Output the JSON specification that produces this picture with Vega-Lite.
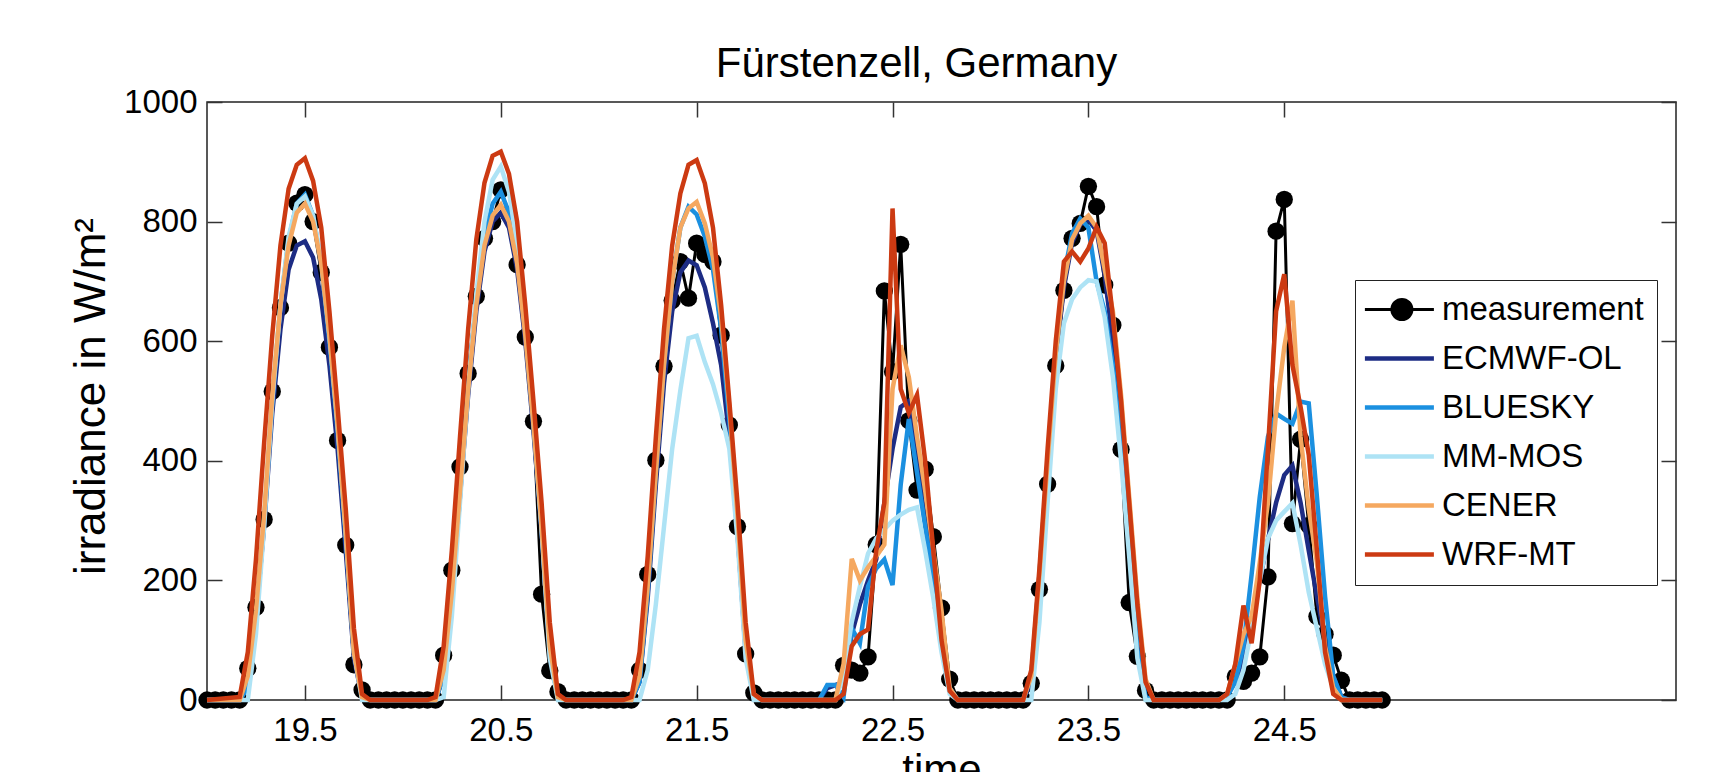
{
"$schema":"https://vega.github.io/schema/vega-lite/v6.json",
"width":1469,"height":598,
"autosize":{"type":"none"},
"padding":{"left":207,"top":102,"right":33,"bottom":72},
"background":"white",
"title":{"text":"Fürstenzell, Germany","fontSize":42,"fontWeight":"normal","font":"Liberation Sans","color":"black","offset":19,"dx":-25,"dy":61,"anchor":"middle","baseline":"bottom","frame":"group"},
"config":{"font":"Liberation Sans","view":{"stroke":"#222","strokeWidth":1.5}},
"data":{"values":[
{"t":19,"s":"measurement","v":0},{"t":19.0417,"s":"measurement","v":0},{"t":19.0833,"s":"measurement","v":0},{"t":19.125,"s":"measurement","v":0},{"t":19.1667,"s":"measurement","v":0},{"t":19.2083,"s":"measurement","v":53},{"t":19.25,"s":"measurement","v":155},{"t":19.2917,"s":"measurement","v":302},{"t":19.3333,"s":"measurement","v":516},{"t":19.375,"s":"measurement","v":656},{"t":19.4167,"s":"measurement","v":764},{"t":19.4583,"s":"measurement","v":831},{"t":19.5,"s":"measurement","v":845},{"t":19.5417,"s":"measurement","v":800},{"t":19.5833,"s":"measurement","v":715},{"t":19.625,"s":"measurement","v":590},{"t":19.6667,"s":"measurement","v":434},{"t":19.7083,"s":"measurement","v":259},{"t":19.75,"s":"measurement","v":59},{"t":19.7917,"s":"measurement","v":17},{"t":19.8333,"s":"measurement","v":0},{"t":19.875,"s":"measurement","v":0},{"t":19.9167,"s":"measurement","v":0},{"t":19.9583,"s":"measurement","v":0},
{"t":20,"s":"measurement","v":0},{"t":20.0417,"s":"measurement","v":0},{"t":20.0833,"s":"measurement","v":0},{"t":20.125,"s":"measurement","v":0},{"t":20.1667,"s":"measurement","v":0},{"t":20.2083,"s":"measurement","v":75},{"t":20.25,"s":"measurement","v":217},{"t":20.2917,"s":"measurement","v":390},{"t":20.3333,"s":"measurement","v":546},{"t":20.375,"s":"measurement","v":675},{"t":20.4167,"s":"measurement","v":772},{"t":20.4583,"s":"measurement","v":800},{"t":20.5,"s":"measurement","v":853},{"t":20.5417,"s":"measurement","v":812},{"t":20.5833,"s":"measurement","v":728},{"t":20.625,"s":"measurement","v":607},{"t":20.6667,"s":"measurement","v":466},{"t":20.7083,"s":"measurement","v":177},{"t":20.75,"s":"measurement","v":49},{"t":20.7917,"s":"measurement","v":14},{"t":20.8333,"s":"measurement","v":0},{"t":20.875,"s":"measurement","v":0},{"t":20.9167,"s":"measurement","v":0},{"t":20.9583,"s":"measurement","v":0},
{"t":21,"s":"measurement","v":0},{"t":21.0417,"s":"measurement","v":0},{"t":21.0833,"s":"measurement","v":0},{"t":21.125,"s":"measurement","v":0},{"t":21.1667,"s":"measurement","v":0},{"t":21.2083,"s":"measurement","v":50},{"t":21.25,"s":"measurement","v":210},{"t":21.2917,"s":"measurement","v":401},{"t":21.3333,"s":"measurement","v":558},{"t":21.375,"s":"measurement","v":668},{"t":21.4167,"s":"measurement","v":733},{"t":21.4583,"s":"measurement","v":672},{"t":21.5,"s":"measurement","v":764},{"t":21.5417,"s":"measurement","v":745},{"t":21.5833,"s":"measurement","v":733},{"t":21.625,"s":"measurement","v":610},{"t":21.6667,"s":"measurement","v":460},{"t":21.7083,"s":"measurement","v":290},{"t":21.75,"s":"measurement","v":77},{"t":21.7917,"s":"measurement","v":12},{"t":21.8333,"s":"measurement","v":0},{"t":21.875,"s":"measurement","v":0},{"t":21.9167,"s":"measurement","v":0},{"t":21.9583,"s":"measurement","v":0},
{"t":22,"s":"measurement","v":0},{"t":22.0417,"s":"measurement","v":0},{"t":22.0833,"s":"measurement","v":0},{"t":22.125,"s":"measurement","v":0},{"t":22.1667,"s":"measurement","v":0},{"t":22.2083,"s":"measurement","v":0},{"t":22.25,"s":"measurement","v":58},{"t":22.2917,"s":"measurement","v":50},{"t":22.3333,"s":"measurement","v":45},{"t":22.375,"s":"measurement","v":72},{"t":22.4167,"s":"measurement","v":260},{"t":22.4583,"s":"measurement","v":684},{"t":22.5,"s":"measurement","v":549},{"t":22.5417,"s":"measurement","v":762},{"t":22.5833,"s":"measurement","v":467},{"t":22.625,"s":"measurement","v":351},{"t":22.6667,"s":"measurement","v":386},{"t":22.7083,"s":"measurement","v":273},{"t":22.75,"s":"measurement","v":154},{"t":22.7917,"s":"measurement","v":35},{"t":22.8333,"s":"measurement","v":0},{"t":22.875,"s":"measurement","v":0},{"t":22.9167,"s":"measurement","v":0},{"t":22.9583,"s":"measurement","v":0},
{"t":23,"s":"measurement","v":0},{"t":23.0417,"s":"measurement","v":0},{"t":23.0833,"s":"measurement","v":0},{"t":23.125,"s":"measurement","v":0},{"t":23.1667,"s":"measurement","v":0},{"t":23.2083,"s":"measurement","v":28},{"t":23.25,"s":"measurement","v":185},{"t":23.2917,"s":"measurement","v":361},{"t":23.3333,"s":"measurement","v":559},{"t":23.375,"s":"measurement","v":685},{"t":23.4167,"s":"measurement","v":772},{"t":23.4583,"s":"measurement","v":797},{"t":23.5,"s":"measurement","v":859},{"t":23.5417,"s":"measurement","v":825},{"t":23.5833,"s":"measurement","v":694},{"t":23.625,"s":"measurement","v":627},{"t":23.6667,"s":"measurement","v":419},{"t":23.7083,"s":"measurement","v":163},{"t":23.75,"s":"measurement","v":73},{"t":23.7917,"s":"measurement","v":16},{"t":23.8333,"s":"measurement","v":0},{"t":23.875,"s":"measurement","v":0},{"t":23.9167,"s":"measurement","v":0},{"t":23.9583,"s":"measurement","v":0},
{"t":24,"s":"measurement","v":0},{"t":24.0417,"s":"measurement","v":0},{"t":24.0833,"s":"measurement","v":0},{"t":24.125,"s":"measurement","v":0},{"t":24.1667,"s":"measurement","v":0},{"t":24.2083,"s":"measurement","v":0},{"t":24.25,"s":"measurement","v":39},{"t":24.2917,"s":"measurement","v":31},{"t":24.3333,"s":"measurement","v":45},{"t":24.375,"s":"measurement","v":72},{"t":24.4167,"s":"measurement","v":206},{"t":24.4583,"s":"measurement","v":784},{"t":24.5,"s":"measurement","v":837},{"t":24.5417,"s":"measurement","v":295},{"t":24.5833,"s":"measurement","v":436},{"t":24.625,"s":"measurement","v":292},{"t":24.6667,"s":"measurement","v":140},{"t":24.7083,"s":"measurement","v":110},{"t":24.75,"s":"measurement","v":75},{"t":24.7917,"s":"measurement","v":33},{"t":24.8333,"s":"measurement","v":0},{"t":24.875,"s":"measurement","v":0},{"t":24.9167,"s":"measurement","v":0},{"t":24.9583,"s":"measurement","v":0},{"t":25,"s":"measurement","v":0},

{"t":19,"s":"ECMWF-OL","v":0},
{"t":19.1667,"s":"ECMWF-OL","v":0},{"t":19.2083,"s":"ECMWF-OL","v":30},{"t":19.25,"s":"ECMWF-OL","v":140},{"t":19.2917,"s":"ECMWF-OL","v":290},{"t":19.3333,"s":"ECMWF-OL","v":480},{"t":19.375,"s":"ECMWF-OL","v":620},{"t":19.4167,"s":"ECMWF-OL","v":720},{"t":19.4583,"s":"ECMWF-OL","v":760},{"t":19.5,"s":"ECMWF-OL","v":767},{"t":19.5417,"s":"ECMWF-OL","v":740},{"t":19.5833,"s":"ECMWF-OL","v":670},{"t":19.625,"s":"ECMWF-OL","v":560},{"t":19.6667,"s":"ECMWF-OL","v":420},{"t":19.7083,"s":"ECMWF-OL","v":250},{"t":19.75,"s":"ECMWF-OL","v":70},{"t":19.7917,"s":"ECMWF-OL","v":5},{"t":19.8333,"s":"ECMWF-OL","v":0},
{"t":20.1667,"s":"ECMWF-OL","v":0},{"t":20.2083,"s":"ECMWF-OL","v":40},{"t":20.25,"s":"ECMWF-OL","v":170},{"t":20.2917,"s":"ECMWF-OL","v":340},{"t":20.3333,"s":"ECMWF-OL","v":510},{"t":20.375,"s":"ECMWF-OL","v":650},{"t":20.4167,"s":"ECMWF-OL","v":750},{"t":20.4583,"s":"ECMWF-OL","v":800},{"t":20.5,"s":"ECMWF-OL","v":815},{"t":20.5417,"s":"ECMWF-OL","v":790},{"t":20.5833,"s":"ECMWF-OL","v":720},{"t":20.625,"s":"ECMWF-OL","v":600},{"t":20.6667,"s":"ECMWF-OL","v":450},{"t":20.7083,"s":"ECMWF-OL","v":280},{"t":20.75,"s":"ECMWF-OL","v":80},{"t":20.7917,"s":"ECMWF-OL","v":5},{"t":20.8333,"s":"ECMWF-OL","v":0},
{"t":21.1667,"s":"ECMWF-OL","v":0},{"t":21.2083,"s":"ECMWF-OL","v":30},{"t":21.25,"s":"ECMWF-OL","v":170},{"t":21.2917,"s":"ECMWF-OL","v":360},{"t":21.3333,"s":"ECMWF-OL","v":530},{"t":21.375,"s":"ECMWF-OL","v":650},{"t":21.4167,"s":"ECMWF-OL","v":715},{"t":21.4583,"s":"ECMWF-OL","v":735},{"t":21.5,"s":"ECMWF-OL","v":727},{"t":21.5417,"s":"ECMWF-OL","v":690},{"t":21.5833,"s":"ECMWF-OL","v":630},{"t":21.625,"s":"ECMWF-OL","v":560},{"t":21.6667,"s":"ECMWF-OL","v":440},{"t":21.7083,"s":"ECMWF-OL","v":280},{"t":21.75,"s":"ECMWF-OL","v":80},{"t":21.7917,"s":"ECMWF-OL","v":5},{"t":21.8333,"s":"ECMWF-OL","v":0},
{"t":22.125,"s":"ECMWF-OL","v":0},{"t":22.1667,"s":"ECMWF-OL","v":20},{"t":22.2083,"s":"ECMWF-OL","v":25},{"t":22.25,"s":"ECMWF-OL","v":30},{"t":22.2917,"s":"ECMWF-OL","v":110},{"t":22.3333,"s":"ECMWF-OL","v":160},{"t":22.375,"s":"ECMWF-OL","v":200},{"t":22.4167,"s":"ECMWF-OL","v":235},{"t":22.4583,"s":"ECMWF-OL","v":330},{"t":22.5,"s":"ECMWF-OL","v":420},{"t":22.5417,"s":"ECMWF-OL","v":490},{"t":22.5833,"s":"ECMWF-OL","v":500},{"t":22.625,"s":"ECMWF-OL","v":400},{"t":22.6667,"s":"ECMWF-OL","v":300},{"t":22.7083,"s":"ECMWF-OL","v":210},{"t":22.75,"s":"ECMWF-OL","v":110},{"t":22.7917,"s":"ECMWF-OL","v":20},{"t":22.8333,"s":"ECMWF-OL","v":0},
{"t":23.1667,"s":"ECMWF-OL","v":0},{"t":23.2083,"s":"ECMWF-OL","v":30},{"t":23.25,"s":"ECMWF-OL","v":200},{"t":23.2917,"s":"ECMWF-OL","v":390},{"t":23.3333,"s":"ECMWF-OL","v":570},{"t":23.375,"s":"ECMWF-OL","v":690},{"t":23.4167,"s":"ECMWF-OL","v":765},{"t":23.4583,"s":"ECMWF-OL","v":795},{"t":23.5,"s":"ECMWF-OL","v":803},{"t":23.5417,"s":"ECMWF-OL","v":785},{"t":23.5833,"s":"ECMWF-OL","v":710},{"t":23.625,"s":"ECMWF-OL","v":600},{"t":23.6667,"s":"ECMWF-OL","v":450},{"t":23.7083,"s":"ECMWF-OL","v":280},{"t":23.75,"s":"ECMWF-OL","v":90},{"t":23.7917,"s":"ECMWF-OL","v":5},{"t":23.8333,"s":"ECMWF-OL","v":0},
{"t":24.1667,"s":"ECMWF-OL","v":0},{"t":24.2083,"s":"ECMWF-OL","v":10},{"t":24.25,"s":"ECMWF-OL","v":30},{"t":24.2917,"s":"ECMWF-OL","v":70},{"t":24.3333,"s":"ECMWF-OL","v":130},{"t":24.375,"s":"ECMWF-OL","v":200},{"t":24.4167,"s":"ECMWF-OL","v":268},{"t":24.4583,"s":"ECMWF-OL","v":330},{"t":24.5,"s":"ECMWF-OL","v":376},{"t":24.5417,"s":"ECMWF-OL","v":392},{"t":24.5833,"s":"ECMWF-OL","v":330},{"t":24.625,"s":"ECMWF-OL","v":250},{"t":24.6667,"s":"ECMWF-OL","v":173},{"t":24.7083,"s":"ECMWF-OL","v":100},{"t":24.75,"s":"ECMWF-OL","v":40},{"t":24.7917,"s":"ECMWF-OL","v":5},{"t":24.8333,"s":"ECMWF-OL","v":0},{"t":25,"s":"ECMWF-OL","v":0},

{"t":19,"s":"BLUESKY","v":0},
{"t":19.1667,"s":"BLUESKY","v":0},{"t":19.2083,"s":"BLUESKY","v":20},{"t":19.25,"s":"BLUESKY","v":130},{"t":19.2917,"s":"BLUESKY","v":300},{"t":19.3333,"s":"BLUESKY","v":500},{"t":19.375,"s":"BLUESKY","v":660},{"t":19.4167,"s":"BLUESKY","v":770},{"t":19.4583,"s":"BLUESKY","v":830},{"t":19.5,"s":"BLUESKY","v":845},{"t":19.5417,"s":"BLUESKY","v":810},{"t":19.5833,"s":"BLUESKY","v":730},{"t":19.625,"s":"BLUESKY","v":600},{"t":19.6667,"s":"BLUESKY","v":450},{"t":19.7083,"s":"BLUESKY","v":270},{"t":19.75,"s":"BLUESKY","v":80},{"t":19.7917,"s":"BLUESKY","v":5},{"t":19.8333,"s":"BLUESKY","v":0},
{"t":20.1667,"s":"BLUESKY","v":0},{"t":20.2083,"s":"BLUESKY","v":40},{"t":20.25,"s":"BLUESKY","v":175},{"t":20.2917,"s":"BLUESKY","v":350},{"t":20.3333,"s":"BLUESKY","v":525},{"t":20.375,"s":"BLUESKY","v":670},{"t":20.4167,"s":"BLUESKY","v":775},{"t":20.4583,"s":"BLUESKY","v":830},{"t":20.5,"s":"BLUESKY","v":850},{"t":20.5417,"s":"BLUESKY","v":815},{"t":20.5833,"s":"BLUESKY","v":740},{"t":20.625,"s":"BLUESKY","v":615},{"t":20.6667,"s":"BLUESKY","v":460},{"t":20.7083,"s":"BLUESKY","v":285},{"t":20.75,"s":"BLUESKY","v":85},{"t":20.7917,"s":"BLUESKY","v":5},{"t":20.8333,"s":"BLUESKY","v":0},
{"t":21.1667,"s":"BLUESKY","v":0},{"t":21.2083,"s":"BLUESKY","v":30},{"t":21.25,"s":"BLUESKY","v":180},{"t":21.2917,"s":"BLUESKY","v":380},{"t":21.3333,"s":"BLUESKY","v":560},{"t":21.375,"s":"BLUESKY","v":700},{"t":21.4167,"s":"BLUESKY","v":790},{"t":21.4583,"s":"BLUESKY","v":825},{"t":21.5,"s":"BLUESKY","v":812},{"t":21.5417,"s":"BLUESKY","v":775},{"t":21.5833,"s":"BLUESKY","v":720},{"t":21.625,"s":"BLUESKY","v":620},{"t":21.6667,"s":"BLUESKY","v":470},{"t":21.7083,"s":"BLUESKY","v":300},{"t":21.75,"s":"BLUESKY","v":90},{"t":21.7917,"s":"BLUESKY","v":5},{"t":21.8333,"s":"BLUESKY","v":0},
{"t":22.125,"s":"BLUESKY","v":0},{"t":22.1667,"s":"BLUESKY","v":25},{"t":22.2083,"s":"BLUESKY","v":25},{"t":22.25,"s":"BLUESKY","v":5},{"t":22.2917,"s":"BLUESKY","v":120},{"t":22.3333,"s":"BLUESKY","v":95},{"t":22.375,"s":"BLUESKY","v":190},{"t":22.4167,"s":"BLUESKY","v":220},{"t":22.4583,"s":"BLUESKY","v":235},{"t":22.5,"s":"BLUESKY","v":192},{"t":22.5417,"s":"BLUESKY","v":360},{"t":22.5833,"s":"BLUESKY","v":470},{"t":22.625,"s":"BLUESKY","v":380},{"t":22.6667,"s":"BLUESKY","v":290},{"t":22.7083,"s":"BLUESKY","v":200},{"t":22.75,"s":"BLUESKY","v":100},{"t":22.7917,"s":"BLUESKY","v":20},{"t":22.8333,"s":"BLUESKY","v":0},
{"t":23.1667,"s":"BLUESKY","v":0},{"t":23.2083,"s":"BLUESKY","v":40},{"t":23.25,"s":"BLUESKY","v":210},{"t":23.2917,"s":"BLUESKY","v":400},{"t":23.3333,"s":"BLUESKY","v":580},{"t":23.375,"s":"BLUESKY","v":710},{"t":23.4167,"s":"BLUESKY","v":780},{"t":23.4583,"s":"BLUESKY","v":805},{"t":23.5,"s":"BLUESKY","v":790},{"t":23.5417,"s":"BLUESKY","v":700},{"t":23.5833,"s":"BLUESKY","v":650},{"t":23.625,"s":"BLUESKY","v":560},{"t":23.6667,"s":"BLUESKY","v":430},{"t":23.7083,"s":"BLUESKY","v":270},{"t":23.75,"s":"BLUESKY","v":85},{"t":23.7917,"s":"BLUESKY","v":5},{"t":23.8333,"s":"BLUESKY","v":0},
{"t":24.1667,"s":"BLUESKY","v":0},{"t":24.2083,"s":"BLUESKY","v":5},{"t":24.25,"s":"BLUESKY","v":30},{"t":24.2917,"s":"BLUESKY","v":90},{"t":24.3333,"s":"BLUESKY","v":210},{"t":24.375,"s":"BLUESKY","v":340},{"t":24.4167,"s":"BLUESKY","v":440},{"t":24.4583,"s":"BLUESKY","v":479},{"t":24.5,"s":"BLUESKY","v":470},{"t":24.5417,"s":"BLUESKY","v":462},{"t":24.5833,"s":"BLUESKY","v":499},{"t":24.625,"s":"BLUESKY","v":496},{"t":24.6667,"s":"BLUESKY","v":340},{"t":24.7083,"s":"BLUESKY","v":173},{"t":24.75,"s":"BLUESKY","v":40},{"t":24.7917,"s":"BLUESKY","v":5},{"t":24.8333,"s":"BLUESKY","v":0},{"t":25,"s":"BLUESKY","v":0},

{"t":19,"s":"MM-MOS","v":0},
{"t":19.1667,"s":"MM-MOS","v":0},{"t":19.2083,"s":"MM-MOS","v":0},{"t":19.25,"s":"MM-MOS","v":110},{"t":19.2917,"s":"MM-MOS","v":290},{"t":19.3333,"s":"MM-MOS","v":500},{"t":19.375,"s":"MM-MOS","v":660},{"t":19.4167,"s":"MM-MOS","v":775},{"t":19.4583,"s":"MM-MOS","v":830},{"t":19.5,"s":"MM-MOS","v":842},{"t":19.5417,"s":"MM-MOS","v":810},{"t":19.5833,"s":"MM-MOS","v":735},{"t":19.625,"s":"MM-MOS","v":610},{"t":19.6667,"s":"MM-MOS","v":460},{"t":19.7083,"s":"MM-MOS","v":280},{"t":19.75,"s":"MM-MOS","v":80},{"t":19.7917,"s":"MM-MOS","v":0},{"t":19.8333,"s":"MM-MOS","v":0},
{"t":20.1667,"s":"MM-MOS","v":0},{"t":20.2083,"s":"MM-MOS","v":5},{"t":20.25,"s":"MM-MOS","v":140},{"t":20.2917,"s":"MM-MOS","v":330},{"t":20.3333,"s":"MM-MOS","v":520},{"t":20.375,"s":"MM-MOS","v":680},{"t":20.4167,"s":"MM-MOS","v":800},{"t":20.4583,"s":"MM-MOS","v":870},{"t":20.5,"s":"MM-MOS","v":892},{"t":20.5417,"s":"MM-MOS","v":850},{"t":20.5833,"s":"MM-MOS","v":760},{"t":20.625,"s":"MM-MOS","v":630},{"t":20.6667,"s":"MM-MOS","v":470},{"t":20.7083,"s":"MM-MOS","v":285},{"t":20.75,"s":"MM-MOS","v":70},{"t":20.7917,"s":"MM-MOS","v":0},{"t":20.8333,"s":"MM-MOS","v":0},
{"t":21.1667,"s":"MM-MOS","v":0},{"t":21.2083,"s":"MM-MOS","v":0},{"t":21.25,"s":"MM-MOS","v":50},{"t":21.2917,"s":"MM-MOS","v":160},{"t":21.3333,"s":"MM-MOS","v":290},{"t":21.375,"s":"MM-MOS","v":420},{"t":21.4167,"s":"MM-MOS","v":518},{"t":21.4583,"s":"MM-MOS","v":605},{"t":21.5,"s":"MM-MOS","v":609},{"t":21.5417,"s":"MM-MOS","v":565},{"t":21.5833,"s":"MM-MOS","v":528},{"t":21.625,"s":"MM-MOS","v":480},{"t":21.6667,"s":"MM-MOS","v":420},{"t":21.7083,"s":"MM-MOS","v":270},{"t":21.75,"s":"MM-MOS","v":70},{"t":21.7917,"s":"MM-MOS","v":0},{"t":21.8333,"s":"MM-MOS","v":0},
{"t":22.125,"s":"MM-MOS","v":0},{"t":22.1667,"s":"MM-MOS","v":0},{"t":22.2083,"s":"MM-MOS","v":0},{"t":22.25,"s":"MM-MOS","v":40},{"t":22.2917,"s":"MM-MOS","v":130},{"t":22.3333,"s":"MM-MOS","v":190},{"t":22.375,"s":"MM-MOS","v":245},{"t":22.4167,"s":"MM-MOS","v":270},{"t":22.4583,"s":"MM-MOS","v":285},{"t":22.5,"s":"MM-MOS","v":300},{"t":22.5417,"s":"MM-MOS","v":310},{"t":22.5833,"s":"MM-MOS","v":318},{"t":22.625,"s":"MM-MOS","v":322},{"t":22.6667,"s":"MM-MOS","v":250},{"t":22.7083,"s":"MM-MOS","v":170},{"t":22.75,"s":"MM-MOS","v":80},{"t":22.7917,"s":"MM-MOS","v":10},{"t":22.8333,"s":"MM-MOS","v":0},
{"t":23.1667,"s":"MM-MOS","v":0},{"t":23.2083,"s":"MM-MOS","v":0},{"t":23.25,"s":"MM-MOS","v":130},{"t":23.2917,"s":"MM-MOS","v":330},{"t":23.3333,"s":"MM-MOS","v":520},{"t":23.375,"s":"MM-MOS","v":630},{"t":23.4167,"s":"MM-MOS","v":670},{"t":23.4583,"s":"MM-MOS","v":690},{"t":23.5,"s":"MM-MOS","v":702},{"t":23.5417,"s":"MM-MOS","v":700},{"t":23.5833,"s":"MM-MOS","v":640},{"t":23.625,"s":"MM-MOS","v":540},{"t":23.6667,"s":"MM-MOS","v":400},{"t":23.7083,"s":"MM-MOS","v":240},{"t":23.75,"s":"MM-MOS","v":70},{"t":23.7917,"s":"MM-MOS","v":0},{"t":23.8333,"s":"MM-MOS","v":0},
{"t":24.1667,"s":"MM-MOS","v":0},{"t":24.2083,"s":"MM-MOS","v":0},{"t":24.25,"s":"MM-MOS","v":10},{"t":24.2917,"s":"MM-MOS","v":50},{"t":24.3333,"s":"MM-MOS","v":120},{"t":24.375,"s":"MM-MOS","v":200},{"t":24.4167,"s":"MM-MOS","v":270},{"t":24.4583,"s":"MM-MOS","v":300},{"t":24.5,"s":"MM-MOS","v":315},{"t":24.5417,"s":"MM-MOS","v":329},{"t":24.5833,"s":"MM-MOS","v":260},{"t":24.625,"s":"MM-MOS","v":180},{"t":24.6667,"s":"MM-MOS","v":120},{"t":24.7083,"s":"MM-MOS","v":60},{"t":24.75,"s":"MM-MOS","v":20},{"t":24.7917,"s":"MM-MOS","v":0},{"t":24.8333,"s":"MM-MOS","v":0},{"t":25,"s":"MM-MOS","v":0},

{"t":19,"s":"CENER","v":0},
{"t":19.1667,"s":"CENER","v":0},{"t":19.2083,"s":"CENER","v":40},{"t":19.25,"s":"CENER","v":150},{"t":19.2917,"s":"CENER","v":310},{"t":19.3333,"s":"CENER","v":510},{"t":19.375,"s":"CENER","v":660},{"t":19.4167,"s":"CENER","v":760},{"t":19.4583,"s":"CENER","v":815},{"t":19.5,"s":"CENER","v":830},{"t":19.5417,"s":"CENER","v":800},{"t":19.5833,"s":"CENER","v":730},{"t":19.625,"s":"CENER","v":610},{"t":19.6667,"s":"CENER","v":460},{"t":19.7083,"s":"CENER","v":280},{"t":19.75,"s":"CENER","v":80},{"t":19.7917,"s":"CENER","v":5},{"t":19.8333,"s":"CENER","v":0},
{"t":20.1667,"s":"CENER","v":0},{"t":20.2083,"s":"CENER","v":50},{"t":20.25,"s":"CENER","v":180},{"t":20.2917,"s":"CENER","v":350},{"t":20.3333,"s":"CENER","v":520},{"t":20.375,"s":"CENER","v":660},{"t":20.4167,"s":"CENER","v":760},{"t":20.4583,"s":"CENER","v":810},{"t":20.5,"s":"CENER","v":828},{"t":20.5417,"s":"CENER","v":800},{"t":20.5833,"s":"CENER","v":730},{"t":20.625,"s":"CENER","v":610},{"t":20.6667,"s":"CENER","v":460},{"t":20.7083,"s":"CENER","v":290},{"t":20.75,"s":"CENER","v":90},{"t":20.7917,"s":"CENER","v":5},{"t":20.8333,"s":"CENER","v":0},
{"t":21.1667,"s":"CENER","v":0},{"t":21.2083,"s":"CENER","v":40},{"t":21.25,"s":"CENER","v":190},{"t":21.2917,"s":"CENER","v":380},{"t":21.3333,"s":"CENER","v":560},{"t":21.375,"s":"CENER","v":700},{"t":21.4167,"s":"CENER","v":790},{"t":21.4583,"s":"CENER","v":822},{"t":21.5,"s":"CENER","v":833},{"t":21.5417,"s":"CENER","v":797},{"t":21.5833,"s":"CENER","v":740},{"t":21.625,"s":"CENER","v":640},{"t":21.6667,"s":"CENER","v":490},{"t":21.7083,"s":"CENER","v":310},{"t":21.75,"s":"CENER","v":100},{"t":21.7917,"s":"CENER","v":10},{"t":21.8333,"s":"CENER","v":0},
{"t":22.125,"s":"CENER","v":0},{"t":22.1667,"s":"CENER","v":0},{"t":22.2083,"s":"CENER","v":0},{"t":22.25,"s":"CENER","v":60},{"t":22.2917,"s":"CENER","v":236},{"t":22.3333,"s":"CENER","v":200},{"t":22.375,"s":"CENER","v":222},{"t":22.4167,"s":"CENER","v":240},{"t":22.4583,"s":"CENER","v":260},{"t":22.5,"s":"CENER","v":520},{"t":22.5417,"s":"CENER","v":593},{"t":22.5833,"s":"CENER","v":540},{"t":22.625,"s":"CENER","v":440},{"t":22.6667,"s":"CENER","v":350},{"t":22.7083,"s":"CENER","v":250},{"t":22.75,"s":"CENER","v":150},{"t":22.7917,"s":"CENER","v":20},{"t":22.8333,"s":"CENER","v":0},
{"t":23.1667,"s":"CENER","v":0},{"t":23.2083,"s":"CENER","v":40},{"t":23.25,"s":"CENER","v":210},{"t":23.2917,"s":"CENER","v":400},{"t":23.3333,"s":"CENER","v":580},{"t":23.375,"s":"CENER","v":700},{"t":23.4167,"s":"CENER","v":770},{"t":23.4583,"s":"CENER","v":797},{"t":23.5,"s":"CENER","v":810},{"t":23.5417,"s":"CENER","v":790},{"t":23.5833,"s":"CENER","v":720},{"t":23.625,"s":"CENER","v":650},{"t":23.6667,"s":"CENER","v":510},{"t":23.7083,"s":"CENER","v":340},{"t":23.75,"s":"CENER","v":170},{"t":23.7917,"s":"CENER","v":35},{"t":23.8333,"s":"CENER","v":0},
{"t":24.1667,"s":"CENER","v":0},{"t":24.2083,"s":"CENER","v":10},{"t":24.25,"s":"CENER","v":60},{"t":24.2917,"s":"CENER","v":110},{"t":24.3333,"s":"CENER","v":140},{"t":24.375,"s":"CENER","v":230},{"t":24.4167,"s":"CENER","v":330},{"t":24.4583,"s":"CENER","v":480},{"t":24.5,"s":"CENER","v":590},{"t":24.5417,"s":"CENER","v":668},{"t":24.5833,"s":"CENER","v":440},{"t":24.625,"s":"CENER","v":320},{"t":24.6667,"s":"CENER","v":230},{"t":24.7083,"s":"CENER","v":90},{"t":24.75,"s":"CENER","v":20},{"t":24.7917,"s":"CENER","v":0},{"t":24.8333,"s":"CENER","v":0},{"t":25,"s":"CENER","v":0},

{"t":19,"s":"WRF-MT","v":0},
{"t":19.1667,"s":"WRF-MT","v":5},{"t":19.2083,"s":"WRF-MT","v":80},{"t":19.25,"s":"WRF-MT","v":235},{"t":19.2917,"s":"WRF-MT","v":430},{"t":19.3333,"s":"WRF-MT","v":610},{"t":19.375,"s":"WRF-MT","v":760},{"t":19.4167,"s":"WRF-MT","v":855},{"t":19.4583,"s":"WRF-MT","v":895},{"t":19.5,"s":"WRF-MT","v":906},{"t":19.5417,"s":"WRF-MT","v":868},{"t":19.5833,"s":"WRF-MT","v":790},{"t":19.625,"s":"WRF-MT","v":650},{"t":19.6667,"s":"WRF-MT","v":490},{"t":19.7083,"s":"WRF-MT","v":320},{"t":19.75,"s":"WRF-MT","v":120},{"t":19.7917,"s":"WRF-MT","v":10},{"t":19.8333,"s":"WRF-MT","v":0},
{"t":20.125,"s":"WRF-MT","v":0},{"t":20.1667,"s":"WRF-MT","v":5},{"t":20.2083,"s":"WRF-MT","v":90},{"t":20.25,"s":"WRF-MT","v":250},{"t":20.2917,"s":"WRF-MT","v":440},{"t":20.3333,"s":"WRF-MT","v":620},{"t":20.375,"s":"WRF-MT","v":770},{"t":20.4167,"s":"WRF-MT","v":865},{"t":20.4583,"s":"WRF-MT","v":910},{"t":20.5,"s":"WRF-MT","v":917},{"t":20.5417,"s":"WRF-MT","v":880},{"t":20.5833,"s":"WRF-MT","v":800},{"t":20.625,"s":"WRF-MT","v":660},{"t":20.6667,"s":"WRF-MT","v":500},{"t":20.7083,"s":"WRF-MT","v":330},{"t":20.75,"s":"WRF-MT","v":130},{"t":20.7917,"s":"WRF-MT","v":10},{"t":20.8333,"s":"WRF-MT","v":0},
{"t":21.125,"s":"WRF-MT","v":0},{"t":21.1667,"s":"WRF-MT","v":5},{"t":21.2083,"s":"WRF-MT","v":80},{"t":21.25,"s":"WRF-MT","v":240},{"t":21.2917,"s":"WRF-MT","v":440},{"t":21.3333,"s":"WRF-MT","v":620},{"t":21.375,"s":"WRF-MT","v":760},{"t":21.4167,"s":"WRF-MT","v":847},{"t":21.4583,"s":"WRF-MT","v":895},{"t":21.5,"s":"WRF-MT","v":903},{"t":21.5417,"s":"WRF-MT","v":864},{"t":21.5833,"s":"WRF-MT","v":790},{"t":21.625,"s":"WRF-MT","v":660},{"t":21.6667,"s":"WRF-MT","v":500},{"t":21.7083,"s":"WRF-MT","v":330},{"t":21.75,"s":"WRF-MT","v":130},{"t":21.7917,"s":"WRF-MT","v":10},{"t":21.8333,"s":"WRF-MT","v":0},
{"t":22.2083,"s":"WRF-MT","v":0},{"t":22.25,"s":"WRF-MT","v":10},{"t":22.2917,"s":"WRF-MT","v":90},{"t":22.3333,"s":"WRF-MT","v":110},{"t":22.375,"s":"WRF-MT","v":118},{"t":22.4167,"s":"WRF-MT","v":250},{"t":22.4583,"s":"WRF-MT","v":330},{"t":22.5,"s":"WRF-MT","v":822},{"t":22.5417,"s":"WRF-MT","v":520},{"t":22.5833,"s":"WRF-MT","v":480},{"t":22.625,"s":"WRF-MT","v":510},{"t":22.6667,"s":"WRF-MT","v":400},{"t":22.7083,"s":"WRF-MT","v":250},{"t":22.75,"s":"WRF-MT","v":100},{"t":22.7917,"s":"WRF-MT","v":15},{"t":22.8333,"s":"WRF-MT","v":0},
{"t":23.1667,"s":"WRF-MT","v":0},{"t":23.2083,"s":"WRF-MT","v":50},{"t":23.25,"s":"WRF-MT","v":220},{"t":23.2917,"s":"WRF-MT","v":420},{"t":23.3333,"s":"WRF-MT","v":600},{"t":23.375,"s":"WRF-MT","v":733},{"t":23.4167,"s":"WRF-MT","v":750},{"t":23.4583,"s":"WRF-MT","v":733},{"t":23.5,"s":"WRF-MT","v":755},{"t":23.5417,"s":"WRF-MT","v":791},{"t":23.5833,"s":"WRF-MT","v":764},{"t":23.625,"s":"WRF-MT","v":640},{"t":23.6667,"s":"WRF-MT","v":500},{"t":23.7083,"s":"WRF-MT","v":330},{"t":23.75,"s":"WRF-MT","v":160},{"t":23.7917,"s":"WRF-MT","v":30},{"t":23.8333,"s":"WRF-MT","v":0},
{"t":24.1667,"s":"WRF-MT","v":0},{"t":24.2083,"s":"WRF-MT","v":10},{"t":24.25,"s":"WRF-MT","v":60},{"t":24.2917,"s":"WRF-MT","v":158},{"t":24.3333,"s":"WRF-MT","v":95},{"t":24.375,"s":"WRF-MT","v":200},{"t":24.4167,"s":"WRF-MT","v":420},{"t":24.4583,"s":"WRF-MT","v":650},{"t":24.5,"s":"WRF-MT","v":712},{"t":24.5417,"s":"WRF-MT","v":560},{"t":24.5833,"s":"WRF-MT","v":490},{"t":24.625,"s":"WRF-MT","v":410},{"t":24.6667,"s":"WRF-MT","v":250},{"t":24.7083,"s":"WRF-MT","v":80},{"t":24.75,"s":"WRF-MT","v":10},{"t":24.7917,"s":"WRF-MT","v":0},{"t":25,"s":"WRF-MT","v":0}
]},
"layer":[
{"transform":[{"filter":"datum.s === 'measurement'"}],
 "mark":{"type":"point","filled":true,"opacity":1,"size":300,"color":"black","strokeWidth":0},
 "encoding":{
  "x":{"field":"t","type":"quantitative","scale":{"domain":[19,26.5],"nice":false,"zero":false},
       "axis":{"orient":"bottom","values":[19.5,20.5,21.5,22.5,23.5,24.5],"format":".1f","tickSize":-15,"labelPadding":29,"labelFontSize":33,"labelFont":"Liberation Sans","labelColor":"black","tickColor":"#333","tickWidth":1.5,"domain":false,"grid":false,"labelFlush":false,"title":"time","titleFont":"Liberation Sans","titleFontSize":42,"titleFontWeight":"normal","titleColor":"black","titleBaseline":"top","titleX":734.5,"titleY":50}},
  "y":{"field":"v","type":"quantitative","scale":{"domain":[0,1000],"nice":false},
       "axis":{"orient":"left","values":[0,200,400,600,800,1000],"format":"d","tickSize":-15,"labelPadding":25,"labelFontSize":33,"labelFont":"Liberation Sans","labelColor":"black","tickColor":"#333","tickWidth":1.5,"domain":false,"grid":false,"labelFlush":false,"title":"irradiance in W/m²","titleFont":"Liberation Sans","titleFontSize":44,"titleFontWeight":"normal","titleColor":"black","titleX":-116,"titleY":294,"titleAngle":270,"titleBaseline":"middle","titleAlign":"center"}}
 }},
{"mark":{"type":"line"},
 "encoding":{
  "x":{"field":"t","type":"quantitative","scale":{"domain":[19,26.5],"nice":false,"zero":false},
       "axis":{"orient":"top","values":[19.5,20.5,21.5,22.5,23.5,24.5],"tickSize":-15,"labels":false,"tickColor":"#333","tickWidth":1.5,"domain":false,"grid":false,"title":null}},
  "y":{"field":"v","type":"quantitative","scale":{"domain":[0,1000],"nice":false},
       "axis":{"orient":"right","values":[0,200,400,600,800,1000],"tickSize":-15,"labels":false,"tickColor":"#333","tickWidth":1.5,"domain":false,"grid":false,"title":null}},
  "color":{"field":"s","type":"nominal","scale":{"domain":["measurement","ECMWF-OL","BLUESKY","MM-MOS","CENER","WRF-MT"],"range":["#000000","#1d2c84","#1b90e0","#aee3f5","#f5a860","#cc3a12"]},
    "legend":{"orient":"none","legendX":1148,"legendY":178,"title":null,"symbolType":"stroke","symbolSize":400,"symbolStrokeWidth":4,"labelFontSize":33,"labelFont":"Liberation Sans","labelColor":"black","labelLimit":400,"labelOffset":41,"rowPadding":15,"padding":13,"strokeColor":"#222","fillColor":"white","cornerRadius":0,
      "encode":{"symbols":{"update":{"shape":{"signal":"datum.value === 'measurement' ? 'M-1.96,0H4.94M2.74,0A1,1,0,1,1,0.74,0A1,1,0,1,1,2.74,0' : 'M-1.96,0H4.94'"},"fill":{"signal":"datum.value === 'measurement' ? 'black' : 'transparent'"},"strokeWidth":{"signal":"datum.value === 'measurement' ? 3 : 4.5"},"opacity":{"value":1}}}}}},
  "strokeWidth":{"condition":{"test":"datum.s === 'measurement'","value":3},"value":4.5}
 }}
],
"resolve":{"axis":{"x":"independent","y":"independent"}}
}
